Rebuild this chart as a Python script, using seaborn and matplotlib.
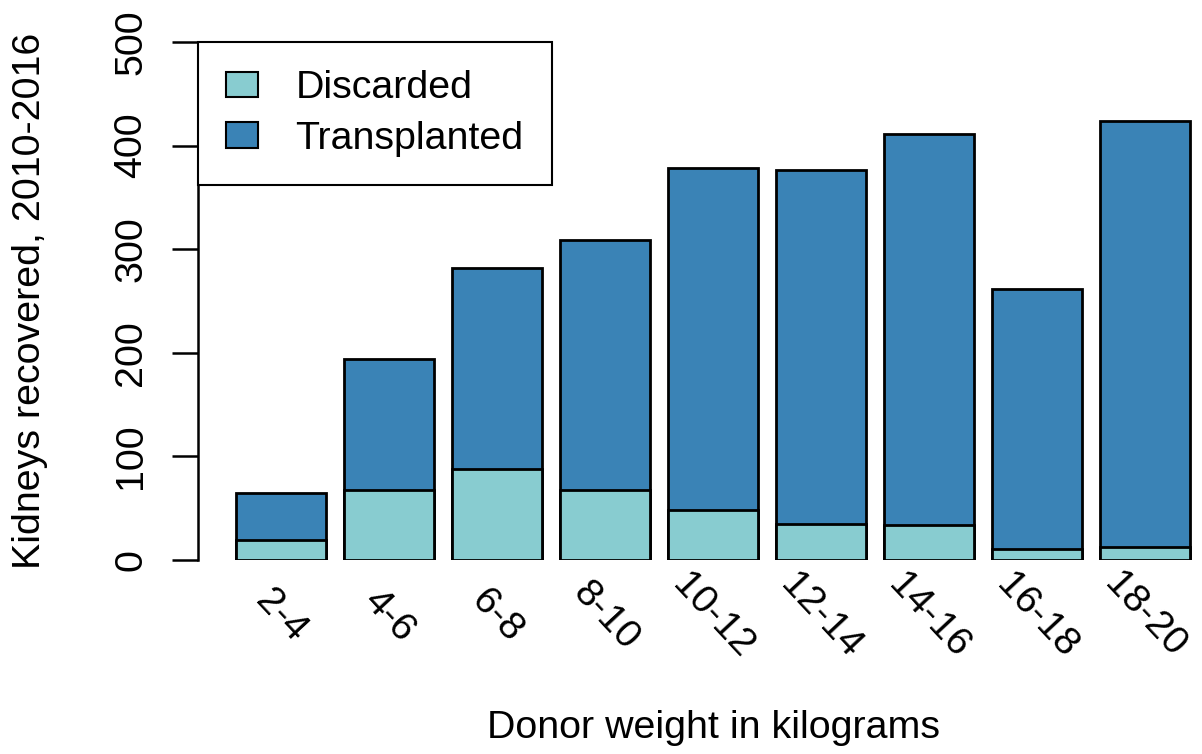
import numpy as np
import pandas as pd
import matplotlib
matplotlib.use("Agg")
import matplotlib.pyplot as plt
from matplotlib.patches import Patch
import seaborn as sns

sns.set_style("white")
plt.rcParams['font.family'] = ['Liberation Sans', 'DejaVu Sans']
plt.rcParams['text.color'] = 'black'
plt.rcParams['axes.labelcolor'] = 'black'
plt.rcParams['xtick.color'] = 'black'
plt.rcParams['ytick.color'] = 'black'

# data
weights = ["2-4", "4-6", "6-8", "8-10", "10-12", "12-14", "14-16", "16-18", "18-20"]
discarded = [19, 68, 88, 68, 48, 35, 34, 11, 13]
transplanted = [46, 126, 194, 241, 330, 341, 377, 251, 411]

col_disc = "#88CCD0"
col_trans = "#3A83B6"

df = pd.DataFrame({"weight": weights, "discarded": discarded, "transplanted": transplanted})
df["total"] = df["discarded"] + df["transplanted"]

fig = plt.figure(figsize=(12.02, 7.54), dpi=100)
ax = fig.add_axes([198 / 1202, 1 - 560 / 754, 1004 / 1202, 518 / 754])

# stacked bars: total first, discarded drawn over the bottom part
sns.barplot(data=df, x="weight", y="total", color=col_trans, width=0.8333,
            edgecolor="black", linewidth=2, errorbar=None, saturation=1, ax=ax)
sns.barplot(data=df, x="weight", y="discarded", color=col_disc, width=0.8333,
            edgecolor="black", linewidth=2, errorbar=None, saturation=1, ax=ax)

ax.set_xlim(-0.7685, 8.528)
ax.set_ylim(0, 500)
ax.set_yticks([0, 100, 200, 300, 400, 500])

for s in ["top", "right", "bottom"]:
    ax.spines[s].set_visible(False)
ax.spines["left"].set_bounds(0, 500)
ax.spines["left"].set_linewidth(1.8)
ax.spines["left"].set_color("black")

ax.tick_params(axis="y", length=19, width=1.8, color="black", pad=16,
               labelsize=28.4, left=True, labelcolor="black")
for lab in ax.get_yticklabels():
    lab.set_rotation(90)
    lab.set_va("center")

ax.tick_params(axis="x", length=0, pad=40, labelsize=28.4, labelcolor="black")
for lab in ax.get_xticklabels():
    lab.set_rotation(-47)
    lab.set_rotation_mode("anchor")
    lab.set_ha("center")
    lab.set_va("center")

ax.set_xlabel("Donor weight in kilograms", fontsize=28.4, color="black")
ax.xaxis.set_label_coords(0.513, -0.324)
ax.xaxis.label.set_va("center")
ax.set_ylabel("Kidneys recovered, 2010-2016", fontsize=28.4, color="black")
ax.yaxis.set_label_coords(-0.167, 0.5)
ax.yaxis.label.set_va("center")

handles = [Patch(facecolor=col_disc, edgecolor="black", linewidth=1.5, label="Discarded"),
           Patch(facecolor=col_trans, edgecolor="black", linewidth=1.5, label="Transplanted")]
leg = ax.legend(handles=handles, loc="upper left", bbox_to_anchor=(0, 1),
                borderaxespad=0, fontsize=28.4, fancybox=False, framealpha=1,
                edgecolor="black", handlelength=0.8, handleheight=0.63,
                handletextpad=0.95, borderpad=0.72, labelspacing=0.36,
                labelcolor="black")
leg.get_frame().set_linewidth(1.5)

fig.savefig("out.png", dpi=100)
